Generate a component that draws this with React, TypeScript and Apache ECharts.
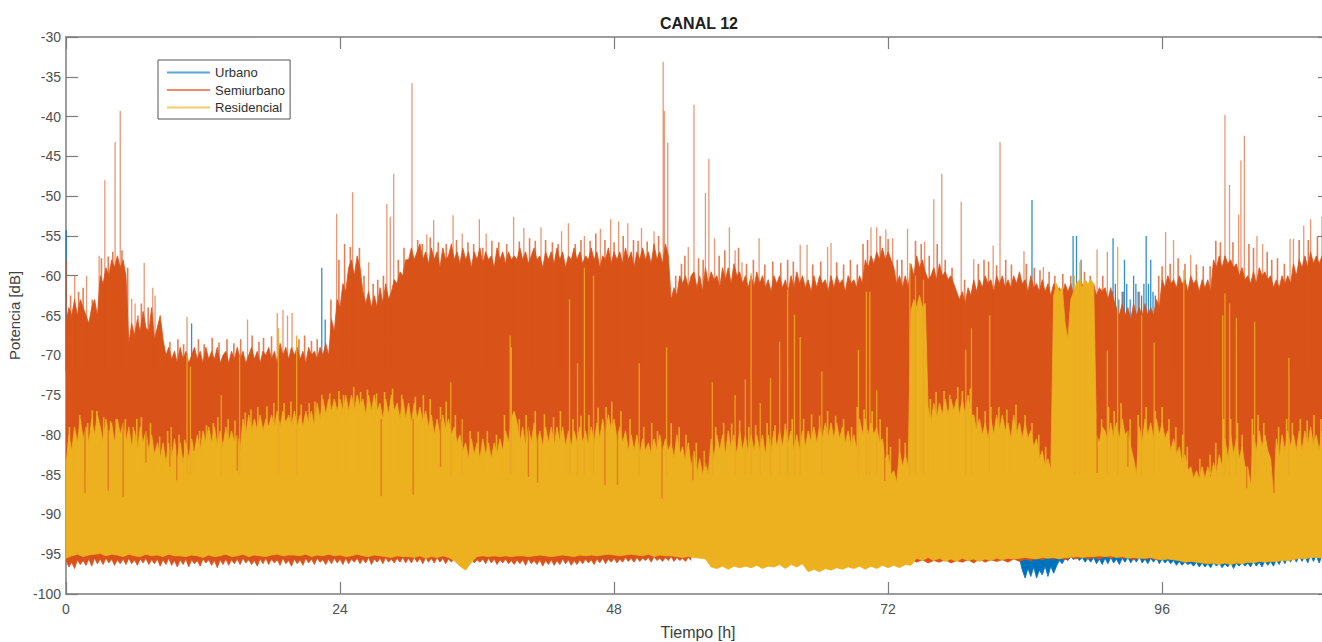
import React, { useEffect, useRef } from "react";
import * as echarts from "echarts";

const chartTitle = "CANAL 12";
const xName = "Tiempo [h]";
const yName = "Potencia [dB]";
const seriesNames = ["Urbano", "Semiurbano", "Residencial"];
const fineStep = 0.25;
const coarseStep = 0.5;

// Upper edge of the Semiurbano trace, read every quarter hour (one row = 5 h)
const semiTop = [
  -66,-64,-65,-63,-65,-63,-64,-65,-66,-64,-63,-65,-60,-61,-59,-60,-58,-59,-57.5,-59,
  -58,-60,-68.5,-66,-67.5,-65.5,-67,-64.5,-66.5,-67,-64,-68,-66.5,-65,-68,-70,-69,-70.5,-69.5,-71,
  -69,-70.5,-69.5,-71,-70,-69,-70.5,-69.5,-71,-69,-70.5,-69.5,-70.5,-69,-71,-70,-69.5,-71,-69.5,-70.5,
  -69,-70.5,-69.5,-71,-70,-69,-70.5,-69.5,-71,-69.5,-70,-69,-70.5,-69.5,-71,-68.5,-70,-69,-70.5,-69,
  -70,-69,-70.5,-69.5,-71,-69,-70,-69.5,-70.5,-69,-70,-68.5,-70,-65.5,-67,-63,-64,-61,-62,-59,
  -58,-60,-57.5,-59,-62,-63.5,-62,-64,-62.5,-64,-61.5,-63.5,-61,-63,-62,-60.5,-61,-59.5,-60,-58,
  -58,-56.5,-58,-57,-56,-58,-57,-58.5,-56.5,-58,-57,-59,-56.5,-58,-57.5,-56,-58,-57,-58.5,-56.5,
  -58,-57,-59,-57,-58,-56.5,-58.5,-57,-58,-57.5,-59,-56.5,-58,-57,-58.5,-57,-58,-57.5,-58,-56.5,
  -58,-57,-58.5,-57.5,-56.5,-58,-57.5,-59,-57,-58,-57,-58.5,-56.5,-58,-57,-59,-57.5,-58,-56.5,-58,
  -57,-58.5,-57.5,-58,-56.5,-58,-57,-59,-57.5,-58,-56.5,-58.5,-57,-58,-57,-58.5,-56.5,-58,-57,-59,
  -57,-58,-56.5,-58,-57,-58.5,-56,-58,-57,-58.5,-56,-57.5,-63,-61.5,-62.5,-60,-61,-60,-61.5,-60,
  -59.5,-61.5,-60,-62,-59,-61,-59.5,-60.5,-60,-61.5,-59,-60.5,-59,-61,-58.5,-60,-59.5,-61,-60,-61.5,
  -60,-61.5,-59.5,-61,-60,-61.5,-60.5,-62,-60,-61,-60,-61.5,-60.5,-62,-60,-61.5,-59.5,-61,-60,-61.5,
  -60.5,-62,-60,-61.5,-60,-61,-60.5,-62,-60,-61.5,-60,-61,-60.5,-62,-60,-61,-60.5,-61.5,-60,-61,
  -58,-59,-57.5,-58.5,-57,-58,-56.5,-58,-57,-58,-59,-61,-60,-61.5,-60,-61.5,-58.5,-60,-57.5,-59,
  -58,-59.5,-60.5,-60,-59,-60.5,-58.5,-60,-59.5,-60.5,-60,-61,-62,-63,-62,-63.5,-61.5,-62.5,-60.5,-62,
  -60.5,-61.5,-60,-61,-60.5,-62,-60,-61,-60,-61.5,-60.5,-61.5,-60,-61,-59.5,-61,-60.5,-62,-60,-61.5,
  -61,-62,-60.5,-62,-61,-62.5,-61,-62,-61.5,-62.5,-61,-62,-61,-62.5,-61.5,-62,-61,-62.5,-61.5,-62.5,
  -61,-62.5,-61.5,-62,-61.5,-63,-61.5,-63,-64,-65,-63.5,-65,-64,-65.5,-63.5,-65,-64,-65,-63.5,-65,
  -64,-65,-63,-64,-60.5,-61.5,-60,-61,-60.5,-61.5,-60,-61,-60.5,-62,-60,-61,-60.5,-62,-60.5,-61.5,
  -60.5,-62,-58,-59,-57.5,-59,-57.5,-58.5,-58,-59,-58.5,-60,-59,-60.5,-60,-61,-59.5,-61,-59,-60,
  -59.5,-60.5,-60,-61.5,-60.5,-61.5,-60,-61,-60,-61,-58.5,-60,-58,-59,-57.5,-59,-57,-58.5,-57.5,-58.5,
  -57.5,-58.5,-57.5,-58,
];

// Upper edge of the Residencial trace, same sampling
const yellowTop = [
  -84,-80,-82,-79,-81,-78,-80.5,-79,-81,-78,-80,-77.5,-79,-81,-78,-80,-78.5,-81,-78,-80,
  -78.5,-81,-79,-81.5,-79.5,-82,-79,-81,-79.5,-82,-80,-82.5,-81,-83,-81,-83.5,-81,-83,-80.5,-83,
  -81,-83.5,-81,-83,-80.5,-82,-80,-82,-79.5,-81,-79,-81,-79,-81.5,-79.5,-81.5,-79,-81,-79.5,-81,
  -80,-82,-78,-80,-77.5,-79.5,-78,-79.5,-77.5,-79.5,-78,-79,-77.5,-79,-77,-79,-77,-78.5,-77.5,-79,
  -77,-79,-77.5,-79,-77,-78.5,-77,-79,-76,-78,-75.5,-77.5,-75.5,-77,-75.5,-77,-75.5,-77,-75,-77,
  -75,-77,-75,-76.5,-75.5,-77.5,-75,-77,-75,-77,-76,-78,-75.5,-77.5,-75,-77,-76,-78,-75.5,-78,
  -76,-78.5,-76,-78,-76.5,-78.5,-77,-79,-77.5,-80,-78,-80,-77.5,-79.5,-78,-80,-79,-81,-80,-82,
  -81,-83,-80.5,-82.5,-81,-83,-80.5,-82.5,-81,-83,-81,-82.5,-80.5,-82,-79.5,-81,-78,-77,-78.5,-81,
  -79,-81.5,-79,-81,-78.5,-81,-79.5,-81.5,-79,-81,-79,-81.5,-79,-81,-79,-81.5,-79.5,-81.5,-79.5,-81,
  -79,-81,-79.5,-81.5,-79,-81,-78.5,-80.5,-78,-80,-77.5,-79.5,-78,-80.5,-79,-81,-79.5,-82,-80,-82,
  -80,-82.5,-80.5,-82,-81,-82.5,-80.5,-82,-80,-82,-80.5,-82,-81,-83,-80,-82.5,-81.5,-83.5,-81,-84,
  -82,-85,-83,-85,-83.5,-85,-80.5,-83,-80,-82,-80,-82.5,-79.5,-82,-80,-82.5,-79.5,-82,-80,-82.5,
  -80,-82,-80,-82,-80,-82.5,-80,-82,-79.5,-81.5,-79.5,-81.5,-79,-81,-79.5,-82,-80,-82,-79.5,-81.5,
  -79.5,-81,-79,-81,-79,-80.5,-78.5,-80.5,-78.5,-80.5,-78.5,-80.5,-79,-81,-79.5,-81.5,-80,-82,-78,-80,
  -78,-80,-78.5,-80,-79,-81,-80.5,-83,-82.5,-85,-84.5,-86,-82,-84,-82.5,-84,-64.5,-63,-64,-62.5,
  -64,-63.5,-76.5,-78.5,-76,-78,-76,-77.5,-75.5,-77.5,-75.5,-77,-75.5,-77.5,-75.5,-77.5,-75,-77.5,-77.5,-79.5,
  -78,-80,-78.5,-80.5,-78,-80,-77.5,-79.5,-77.5,-79.5,-78.5,-80.5,-77.5,-80,-78.5,-80.5,-78.5,-80.5,-79.5,-81.5,
  -80.5,-83,-82,-84,-83,-84.5,-62.5,-61,-62,-61.5,-66,-68,-63,-62,-61,-60.5,-61.5,-60.5,-61,-60.5,
  -61,-80,-81,-79,-79.5,-81,-78.5,-80.5,-78.5,-80.5,-78,-80,-79.5,-81.5,-83,-85,-79,-81,-78,-80,
  -78.5,-80.5,-78,-80,-78.5,-80.5,-79.5,-82,-80.5,-82.5,-81.5,-83.5,-82.5,-84.5,-84,-85.5,-84.5,-85.5,-84,-85.5,
  -84,-85.5,-83.5,-85,-82.5,-84,-80.5,-83,-80,-82.5,-80.5,-83,-81.5,-84,-84,-86.5,-80,-82,-79.5,-81.5,
  -80,-82,-83,-87.5,-80.5,-83,-80,-82,-79.5,-81.5,-80,-82,-79.5,-82,-79.5,-81.5,-79,-81.5,-80,-82,
  -79.5,-81.5,-80,-81,
];

// Lower edge of the Semiurbano trace, hours 0 to 55, quarter-hour rows
const semiBottomEarly = [
  -95.8,-96.6,-96,-96.8,-95.7,-96.3,-95.8,-96.4,-95.6,-96.5,-95.5,-96.2,-95.6,-96.3,-95.5,-96.1,-95.6,-96.4,-95.7,-96.2,
  -95.6,-96.3,-95.5,-96.2,-95.7,-96.4,-95.6,-96.1,-95.5,-96.3,-95.7,-96.2,-95.6,-96.5,-95.7,-96.3,-95.5,-96.4,-95.8,-96.6,
  -95.7,-96.3,-95.6,-96.6,-95.7,-96.2,-95.8,-96.5,-95.6,-96.1,-95.7,-96.4,-95.8,-96.7,-95.7,-96.3,-95.6,-96.4,-95.7,-96.2,
  -95.6,-96.3,-95.5,-96.1,-95.7,-96.3,-95.8,-96.5,-95.6,-96.2,-95.5,-96.3,-95.6,-96.1,-95.7,-96.4,-95.5,-96.2,-95.8,-96.5,
  -95.6,-96.2,-95.7,-96.4,-95.5,-96.1,-95.6,-96.3,-95.5,-96,-95.7,-96.3,-95.6,-96.2,-95.5,-96.1,-95.6,-96.3,-95.5,-96.2,
  -95.6,-96,-95.5,-96.2,-95.6,-96.1,-95.4,-96.3,-95.6,-96,-95.5,-96.2,-95.4,-96,-95.6,-96.1,-95.5,-96,-95.4,-96.1,
  -95.5,-96.1,-95.4,-96,-95.5,-96.2,-95.4,-96,-95.5,-96.1,-95.4,-96,-95.5,-96.2,-95.6,-96,-95.4,-96.1,-95.5,-96,
  -95.6,-95.9,-95.5,-96.1,-95.7,-96,-95.6,-96.2,-95.5,-96.1,-95.6,-96.3,-95.7,-96.1,-95.6,-96.2,-95.8,-96.3,-95.7,-96.2,
  -95.7,-96.4,-95.6,-96.2,-95.8,-96.3,-95.7,-96.5,-95.8,-96.3,-95.7,-96.4,-95.8,-96.3,-95.6,-96.2,-95.7,-96.4,-95.8,-96.3,
  -95.7,-96.2,-95.6,-96.1,-95.7,-96.3,-95.6,-96.1,-95.5,-96.2,-95.6,-96,-95.5,-96.1,-95.6,-96,-95.4,-95.9,-95.5,-96,
  -95.4,-95.9,-95.5,-95.8,-95.4,-96,-95.3,-95.8,-95.5,-95.9,-95.4,-95.8,-95.3,-95.9,-95.4,-95.8,-95.5,-95.9,-95.4,-95.8,
];
const semiBottomEarlyStart = 0;

// Lower edge of the Semiurbano trace, hours 74 to 96, half-hour samples
const semiBottomLate = [
  -95.6,-96,-95.7,-96.1,-95.8,-96,-95.7,-96.1,-95.8,-96,-95.7,-96.1,-95.6,-96,-95.7,-95.9,-95.7,-96,-95.6,-95.9,
  -95.6,-95.8,-95.5,-95.7,-95.4,-95.6,-95.4,-95.7,-95.4,-95.6,-95.3,-95.6,-95.4,-95.6,-95.3,-95.5,-95.3,-95.5,-95.4,-95.7,
  -95.4,-95.6,-95.5,-95.7,-95.5,
];
const semiBottomLateStart = 74;

// Lower edge of the Residencial trace, half-hour samples
const yellowBottom = [
  -95.5,-95.2,-95,-95.3,-95.1,-95,-94.9,-95.2,-95,-95.1,-95.3,-95,-95.2,-95.3,-95,-95.2,-95.1,-95.3,-95,-95.2,
  -95.2,-95.3,-95.1,-95.2,-95.4,-95.1,-95.3,-95.2,-95,-95.3,-95.2,-95,-95.3,-95.1,-95.2,-95.3,-95.1,-95,-95.2,-95.1,
  -95.1,-95.2,-95,-95.3,-95.1,-95.2,-95,-95.2,-95.1,-95.3,-95.2,-95,-95.2,-95.3,-95.1,-95.2,-95.3,-95.4,-95.2,-95.3,
  -95.3,-95.4,-95.2,-95.5,-95.3,-95.4,-95.2,-95.4,-95.8,-96.5,-97,-96,-95.3,-95.2,-95.3,-95.2,-95.3,-95.2,-95.3,-95.2,
  -95.2,-95.3,-95.2,-95.1,-95.2,-95.3,-95.2,-95.1,-95.2,-95.3,-95.1,-95.2,-95.1,-95.2,-95.1,-95,-95.1,-95.2,-95.1,-95,
  -95.1,-95.2,-95,-95.3,-95.1,-95.2,-95.2,-95.3,-95.4,-95.3,-95.4,-95.5,-95.6,-96.6,-96.8,-96.5,-96.9,-96.5,-96.7,-96.5,
  -96.7,-96.4,-96.8,-96.5,-96.6,-96.3,-96.8,-96.3,-96.6,-96.2,-97.2,-96.9,-97.2,-96.8,-97,-96.7,-96.9,-96.6,-96.8,-96.5,
  -96.9,-96.5,-96.8,-96.4,-96.7,-96.4,-96.7,-96.3,-96.4,-95.5,-95.8,-95.4,-95.8,-95.5,-95.9,-95.6,-95.9,-95.5,-95.8,-95.6,
  -95.9,-95.6,-95.8,-95.5,-95.7,-95.5,-95.6,-95.5,-95.4,-95.5,-95.6,-95.4,-95.5,-95.4,-95.6,-95.4,-95.4,-95.3,-95.4,-95.3,
  -95.3,-95.2,-95.3,-95.2,-95.4,-95.3,-95.5,-95.4,-95.5,-95.5,-95.4,-95.6,-95.7,-95.6,-95.7,-95.8,-96,-95.9,-96,-96.1,
  -96.2,-96.1,-96.3,-96.1,-96.3,-96.1,-96.2,-96,-96.1,-95.9,-96,-95.9,-95.9,-95.8,-95.8,-95.7,-95.5,-95.6,-95.4,-95.4,
  -95.5,-95.4,
];

// Lower edge of the Urbano trace, quarter-hour samples from hour 83.5
const blueBottom = [
  -95.5,-97,-98,-96.8,-97.8,-96.6,-98,-97,-97.6,-96.5,-97.8,-96.5,-97.4,-96.5,-95.8,-96.2,-95.5,-95.8,-95.3,-95.7,
  -95.3,-95.8,-95.4,-96,-95.5,-96,-95.4,-96.2,-95.6,-96.3,-95.5,-96.2,-95.4,-96.1,-95.6,-96.3,-95.5,-96,-95.4,-96.1,
  -95.5,-96,-95.3,-96.1,-95.6,-96.2,-95.5,-96,-95.4,-96.2,-95.6,-96.1,-95.7,-96.2,-95.8,-96.4,-95.9,-96.4,-96,-96.3,
  -96.1,-96.5,-96,-96.6,-96.1,-96.6,-96.2,-96.7,-96,-96.5,-96.1,-96.7,-96.2,-96.6,-96,-96.8,-96.1,-96.5,-96,-96.5,
  -96.1,-96.6,-95.9,-96.5,-96,-96.6,-95.8,-96.4,-95.9,-96.5,-95.7,-96.3,-95.5,-96.2,-95.4,-96,-95.2,-96,-95.2,-95.9,
  -95.2,-96.1,-95.1,-95.9,-95.2,-96.1,-95.2,-95.8,-95.1,-96,
];
const blueStart = 83.5;

// Isolated peaks [hour, dB]
const semiBase = -72;
const semiPeaks = [
  [0.05,-58],[0.76,-60],[1.8,-60],[2.9,-57.5],[3.4,-48],[4.3,-43.2],[4.75,-39.3],[5.75,-62.9],[6.05,-63.5],[6.85,-58.4],[7.6,-61.5],[7.8,-62.5],
  [10.6,-65.2],[15.9,-65.5],[18.5,-64.7],[19,-64.3],[19.4,-65],[19.8,-64.7],[23.7,-52.2],[25.1,-49.5],[26.5,-58.3],[28.1,-51],[28.4,-52.6],[28.7,-47.2],
  [30.3,-35.8],[31.6,-54.8],[32.2,-53],[33.9,-52.4],[34.7,-54.7],[36.2,-52.9],[36.8,-54.7],[39.2,-52.6],[40.1,-54],[41.6,-53.9],[43.4,-54.4],[44,-53.4],
  [45.4,-55],[46.8,-54.1],[47.7,-52.9],[48.4,-53.2],[49.2,-53.4],[50.4,-54],[51.5,-54.4],[52.3,-33.1],[52.4,-39.3],[52.7,-43.3],[54.5,-56.4],[55,-38.5],
  [56,-49.6],[56.3,-45.3],[56.8,-55.3],[58.1,-53.9],[58.6,-56.8],[59.2,-58.3],[60.7,-55.3],[64.3,-56.1],[64.9,-56.1],[66.7,-56.4],[67,-55.9],[70.5,-53.9],
  [71,-53.9],[71.8,-54.2],[72.4,-55.3],[73.7,-54.1],[75.2,-55.7],[76,-50.4],[76.7,-47.2],[78.4,-50.7],[79.5,-57.9],[81.2,-56.2],[81.8,-43.2],[83.9,-56.9],
  [85.6,-58.9],[90.3,-56.7],[91.2,-57],[96.3,-54.5],[97,-55.5],[98.5,-57.4],[101.5,-39.8],[101.9,-48.6],[102.7,-52.3],[102.9,-45.5],[103.2,-42.4],[104.3,-55],
  [104.8,-56],[107.2,-55.4],[107.5,-55.4],[108.4,-53.7],[109,-52.9],[110,-52.6],
];

// Short peaks that roughen the top of the Semiurbano trace [hour, dB]
const semiFringe = [
  [0.4,-62.5],[1.1,-62],[1.5,-61.5],[2.3,-63],[3.1,-57.8],[3.7,-57.6],[4.1,-57],[4.9,-56.8],[5.4,-59],[6.3,-65],[6.6,-63.5],[7.2,-64],[8.3,-66.5],
  [9.1,-68.3],[9.8,-68],[10.3,-68.6],[11.6,-68],[12.1,-68.6],[12.8,-67.8],[13.4,-68.4],[14.1,-68],[14.7,-68.5],[15.3,-68],[16.3,-67.5],[16.9,-68.3],[17.3,-67.8],[18,-67.6],
  [20.4,-68],[20.9,-67.5],[21.5,-68.2],[22,-68],[23.2,-63],[23.9,-58],[24.4,-56],[24.9,-56.4],[25.7,-56.5],[26.1,-60],[26.9,-61],[27.3,-60.5],[27.8,-60],
  [29.1,-58],[29.6,-56.5],[30.8,-55.5],[31.2,-56],[31.9,-55.2],[32.6,-55.8],[33.3,-56],[34.2,-55.5],[35.2,-55.8],[35.7,-56],[36.5,-56.5],[37.3,-55.6],[37.9,-55.8],[38.6,-56],
  [39.7,-55.7],[40.6,-55.3],[41.1,-55.6],[42,-55.5],[42.6,-55.8],[43.1,-56],[44.6,-56],[45.1,-55.5],[45.9,-55.6],[46.4,-54.7],[47.2,-55.5],[48,-55.8],[48.8,-55],[49.7,-55.5],
  [50.1,-55.6],[50.9,-55.7],[51.9,-55],[53.4,-60],[53.9,-58.5],[54.2,-57.5],[55.4,-57.8],[55.8,-58],[57.2,-57.5],[57.7,-56.8],[58.9,-56.5],[59.6,-58.5],[60.2,-58],[61.2,-58.6],
  [61.9,-58.2],[62.6,-58.4],[63.2,-58],[63.7,-58.2],[65.4,-58.6],[66.1,-58.2],[67.5,-58.3],[68.1,-58.6],[68.7,-58],[69.3,-58.6],[69.8,-56],[70.2,-55.5],[71.3,-55],[72,-55.4],
  [72.8,-58],[73.2,-58],[74.4,-55.6],[74.9,-56],[75.6,-57.5],[76.3,-56],[77,-58],[77.6,-59],[78.7,-60.5],[79.9,-58.5],[80.4,-58],[80.8,-58.2],[81.5,-58.7],[82.3,-58],[82.8,-58.6],
  [84.1,-58.5],[84.8,-59],[85.3,-59.3],[86.1,-59.5],[86.6,-60],[87.3,-59.8],[88,-60],[89.2,-59.5],[89.7,-60],[90.8,-60],[92.6,-62],[94,-62],[95.7,-60],[96,-58.8],[96.7,-58.5],[97.4,-57.8],
  [98,-58.5],[99,-58.6],[99.6,-58.8],[100.2,-58.8],[100.7,-55.6],[101.1,-55.8],[102.2,-55.8],[103.6,-56],[104,-56.5],[105.2,-57],[105.6,-58],[106.1,-57.8],[106.7,-58.5],[108,-55.5],[108.8,-55.5],[109.6,-55],
];

const blueBase = -72;
const bluePeaks = [
  [0.02,-54.3],[11,-66],[22.4,-59],[22.7,-65.5],[84.6,-50.5],[86.9,-62],[88.2,-55],[88.5,-55],[88.9,-58],
  [91.6,-62],[91.7,-55.3],[91.9,-61],[92.2,-63],[92.5,-62],[92.7,-58],[92.9,-61],[93.2,-63],[93.5,-60],[93.7,-61],[93.9,-62],
  [94.2,-62.5],[94.4,-61],[94.6,-55],[94.8,-61],[95,-58],[95.2,-62],[95.4,-62.5],
];

const yellowBase = -85;
const yellowPeaks = [
  [10.6,-70],[10.9,-71.4],[13.6,-75],[15.2,-70.2],[18.6,-66.6],[20.2,-67.5],[33.7,-73.4],[34.7,-78],[38.9,-67.5],[39,-69],[44.1,-63],[44.8,-71],
  [45.4,-59],[46.2,-60],[50.2,-71],[52.6,-69],[56.6,-73.4],[58.6,-75],[59.5,-73],[60,-59.7],[60.8,-76],[61.7,-72.9],[62.5,-68.3],[63.2,-61.8],
  [63.8,-64.9],[64.3,-67.7],[66.2,-72],[69.4,-69.3],[70.1,-62],[70.4,-62],[71,-74.4],[73.9,-58.4],[74.4,-60],[75.1,-60.5],[78.8,-69.3],[79.3,-66.6],
  [80.9,-65],[88.3,-60],[88.8,-58.3],[91.2,-69.4],[92.1,-56.4],[94.2,-65],[95.3,-68.4],[97.9,-59.3],[101.3,-65],[101.5,-62.2],[101.9,-63.5],[102.5,-65.3],
  [104.1,-65.8],[107.1,-70.3],
];

// Short peaks that roughen the top of the Residencial trace [hour, dB]
const yellowFringe = [
  [0.3,-79],[1.2,-77.5],[1.9,-78.5],[2.3,-76.9],[2.7,-77],[3.3,-77.8],[3.9,-78.3],[4.4,-78],[5.2,-78],[5.9,-79],[6.2,-78],[6.6,-77.8],[7.4,-78.5],[8.2,-80.2],[8.9,-79.5],
  [9.2,-79],[9.9,-80],[10.4,-80.6],[11.7,-79.5],[12.3,-78.8],[12.9,-78.5],[13.3,-77.8],[14.2,-78],[14.8,-78.2],[15.7,-77.2],[16.2,-76.8],[16.8,-76.5],[17.6,-76.4],[18.2,-76],
  [19.1,-76],[19.7,-75.8],[20.6,-76.2],[21.3,-76],[21.8,-75.8],[22.4,-75],[23.1,-74.8],[23.9,-74.5],[24.3,-75],[25.2,-74],[25.8,-74.6],[26.4,-74.3],[27.2,-74.8],[27.9,-74.6],[28.6,-74.2],
  [29.4,-75],[30.6,-75.2],[31.3,-75],[31.9,-75.5],[32.8,-76.5],[33.3,-75.8],[34.1,-77.5],[35.4,-79.5],[36.1,-79.6],[36.9,-79.5],[37.7,-80],[38.4,-77.5],[39.7,-78],[40.3,-77.5],[41.1,-77],
  [41.9,-77.4],[42.7,-77.8],[43.3,-77],[44.4,-78],[45.1,-77.6],[45.8,-77.5],[46.6,-76.6],[47.3,-76.5],[47.8,-75.8],[48.6,-77],[49.4,-78],[50.6,-79],[51.3,-78.5],[51.8,-79.5],[53,-78.5],
  [53.7,-79],[54.3,-80],[55.2,-81],[55.9,-82],[56.9,-79],[57.6,-78.5],[58.3,-78.6],[59,-78.2],[59.8,-79],[60.4,-78.8],[61.4,-78.5],[62.1,-78.8],[63,-78.6],[63.6,-78],[64.6,-78],
  [65.3,-77.4],[66,-77.6],[66.7,-77],[67.4,-77.6],[68.1,-78],[68.8,-79],[69.3,-76.5],[69.9,-76.8],[70.6,-77],[71.3,-78],[71.9,-79],[72.2,-81.5],[73,-80.5],[73.5,-81],
  [75.7,-75.5],[76.2,-74.6],[76.9,-74.5],[77.4,-75],[78.1,-74],[78.5,-74.5],[79.2,-74.2],[79.8,-76.5],[80.5,-77],[81,-76.5],[81.7,-76.5],[82.4,-76.8],[83.2,-76.2],[84,-77.5],[84.6,-78.5],[85.2,-80],[85.8,-81.5],
  [90.7,-78],[91.3,-76.5],[91.8,-77],[92.4,-76],[93.2,-78],[93.9,-77.5],[94.6,-76.5],[95.4,-77],[96,-76.5],[96.6,-78],[97.2,-79],[97.8,-80],[98.2,-81.5],[99.3,-83],[100.2,-82.5],[100.7,-81],
  [101.4,-78],[102,-78],[102.6,-78.5],[103,-80],[103.9,-78],[104.4,-77.5],[104.9,-78.5],[106.2,-79],[106.9,-78],[107.4,-78.5],[108.1,-78],[108.7,-78.2],[109.3,-77.5],[109.9,-78],
];

const dropBase = -78;
const semiDrops = [
  [1.66,-87.3],[3.7,-87],[5,-87.8],[7,-83.5],[9.1,-84],[9.7,-85.7],[11.2,-82],[15,-84.5],[27.6,-87.7],[30.4,-87.5],[32.8,-84],[40.5,-85.3],
  [41.3,-86],[47.2,-86.3],[48.3,-86.3],[52.2,-88],[54.9,-85.7],[56,-84],[71.7,-85.8],[90.3,-84.8],[93,-84],[103.4,-86.7],[105.8,-87.3],
];

const xTicks = [0, 24, 48, 72, 96];

const BLUE = "#0072BD";
const ORANGE = "#D95319";
const YELLOW = "#EDB120";
const FONT = "'Liberation Sans', Arial, sans-serif";
const AXIS = "#7c7c7c";
const TOP_ORIGIN = -92;
const BOTTOM_ORIGIN = -88;

function edge(values: number[], start: number, step: number) {
  return values.map((v, i) => [start + i * step, v]);
}
function segments(list: number[][], base: number) {
  return list.flatMap(([t, v]) => [[t, base], [t, v], [t, null]]);
}
function band(name: string, color: string, data: number[][], z: number, origin: number) {
  return {
    type: "line", name, data, z, showSymbol: false, symbol: "none", silent: true,
    itemStyle: { color },
    lineStyle: { color, width: 0.8 },
    areaStyle: { color, opacity: 1, origin },
  };
}
function peaks(name: string, color: string, data: (number | null)[][], z: number, opacity: number, width = 1.3) {
  return {
    type: "line", name, data, z, showSymbol: false, symbol: "none", silent: true,
    itemStyle: { color },
    lineStyle: { color, width, opacity },
  };
}

export default function App() {
  const ref = useRef<HTMLDivElement>(null);
  useEffect(() => {
    document.body.style.margin = "0";
    document.body.style.overflow = "hidden";
    const chart = echarts.init(ref.current!, undefined, { renderer: "svg" });
    const xBase = {
      type: "value", min: 0, max: 110.7, interval: 24,
      axisLine: { show: true, onZero: false, lineStyle: { color: AXIS, width: 1.5 } },
      axisTick: { show: true, inside: true, length: 12, lineStyle: { color: AXIS, width: 1.2 } },
      splitLine: { show: false },
    };
    const yBase = {
      type: "value", min: -100, max: -30, interval: 5,
      axisLine: { show: true, onZero: false, lineStyle: { color: AXIS, width: 1.5 } },
      axisTick: { show: true, inside: true, length: 12, lineStyle: { color: AXIS, width: 1.2 } },
      splitLine: { show: false },
    };
    chart.setOption({
      animation: false,
      backgroundColor: "#ffffff",
      title: {
        text: chartTitle, left: 655, top: 10,
        textStyle: { fontFamily: FONT, fontSize: 16, fontWeight: "bold", color: "#202020" },
      },
      legend: {
        show: true, orient: "vertical", left: 158, top: 60,
        data: [
          { name: seriesNames[0], itemStyle: { color: "#5BA6D8" } },
          { name: seriesNames[1], itemStyle: { color: "#E88F68" } },
          { name: seriesNames[2], itemStyle: { color: "#F5CB6A" } },
        ],
        icon: "rect", itemWidth: 43, itemHeight: 2, itemGap: 4.5,
        padding: [6, 5, 5, 9], backgroundColor: "#ffffff", borderColor: "#555555", borderWidth: 1,
        selectedMode: false, z: 20,
        textStyle: { fontFamily: FONT, fontSize: 13, color: "#303030" },
      },
      grid: { left: 66, top: 37, width: 1264, height: 557, outerBoundsMode: "none" },
      xAxis: [
        {
          ...xBase, position: "bottom",
          name: xName, nameLocation: "middle", nameGap: 30,
          nameTextStyle: { fontFamily: FONT, fontSize: 16, color: "#404040" },
          axisLabel: {
            fontFamily: FONT, fontSize: 14, color: "#505050", margin: 8,
            customValues: xTicks,
          },
        },
        { ...xBase, position: "top", axisLabel: { show: false } },
      ],
      yAxis: [
        {
          ...yBase, position: "left",
          name: yName, nameLocation: "middle", nameGap: 43, nameRotate: 90,
          nameTextStyle: { fontFamily: FONT, fontSize: 15, color: "#404040" },
          axisLabel: { fontFamily: FONT, fontSize: 14, color: "#505050", margin: 5 },
        },
        { ...yBase, position: "right", axisLabel: { show: false } },
      ],
      series: [
        band(seriesNames[0], BLUE, edge(blueBottom, blueStart, fineStep), 2, BOTTOM_ORIGIN),
        peaks(seriesNames[0], BLUE, segments(bluePeaks, blueBase), 2, 0.8),
        band(seriesNames[1], ORANGE, edge(semiTop, 0, fineStep), 3, TOP_ORIGIN),
        band(seriesNames[1], ORANGE, edge(semiBottomEarly, semiBottomEarlyStart, fineStep), 3, BOTTOM_ORIGIN),
        band(seriesNames[1], ORANGE, edge(semiBottomLate, semiBottomLateStart, coarseStep), 3, BOTTOM_ORIGIN),
        peaks(seriesNames[1], ORANGE, segments(semiPeaks, semiBase), 3, 0.6),
        peaks(seriesNames[1], ORANGE, segments(semiFringe, semiBase), 3, 0.75, 1.6),
        band(seriesNames[2], YELLOW, edge(yellowTop, 0, fineStep), 4, TOP_ORIGIN),
        band(seriesNames[2], YELLOW, edge(yellowBottom, 0, coarseStep), 4, BOTTOM_ORIGIN),
        peaks(seriesNames[2], "#E9A81F", segments(yellowPeaks, yellowBase), 4, 0.9),
        peaks(seriesNames[2], YELLOW, segments(yellowFringe, yellowBase), 4, 0.9, 1.6),
        peaks(seriesNames[1], ORANGE, segments(semiDrops, dropBase), 5, 0.6),
      ],
    });
    return () => chart.dispose();
  }, []);
  return <div ref={ref} style={{ width: 1322, height: 642 }} />;
}
